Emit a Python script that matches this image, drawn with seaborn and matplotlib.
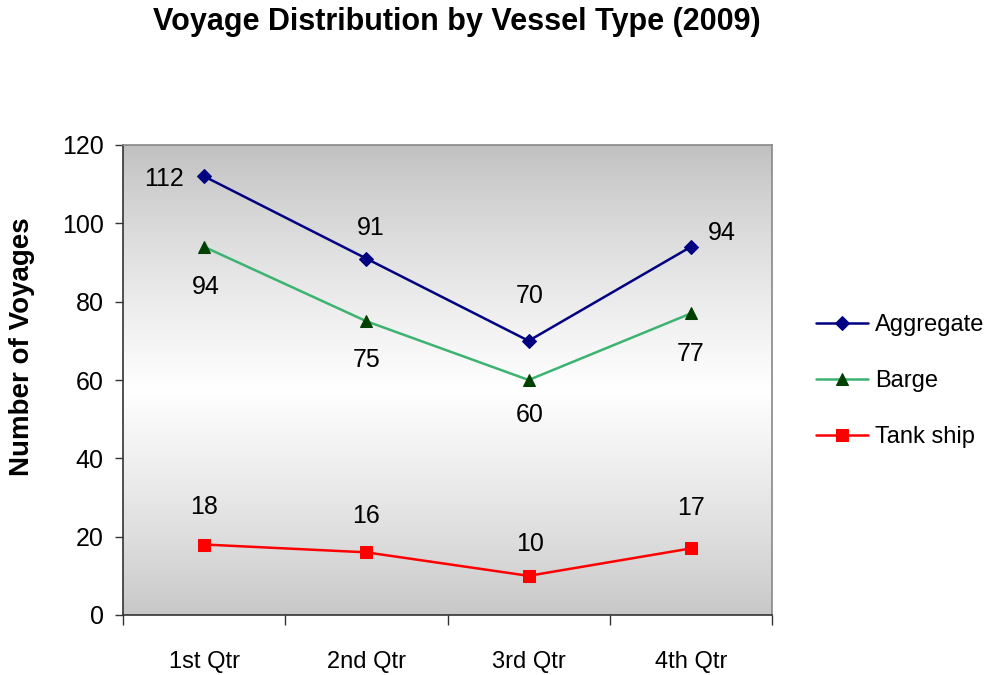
import numpy as np
import pandas as pd
import matplotlib
matplotlib.use("Agg")
import matplotlib.pyplot as plt
import seaborn as sns

# --- data ---
quarters = ["1st Qtr", "2nd Qtr", "3rd Qtr", "4th Qtr"]
aggregate = [112, 91, 70, 94]
barge = [94, 75, 60, 77]
tank_ship = [18, 16, 10, 17]

sns.set_theme(style="white")
plt.rcParams["font.family"] = ["Liberation Sans", "DejaVu Sans"]
plt.rcParams["text.color"] = "black"
plt.rcParams["xtick.color"] = "black"
plt.rcParams["ytick.color"] = "black"
plt.rcParams["axes.labelcolor"] = "black"

fig = plt.figure(figsize=(9.87, 6.75), dpi=100)
rect = [123 / 987, 60 / 675, 649 / 987, 470 / 675]

# gradient background in its own axes: grey at top/bottom, white in the middle
bg = fig.add_axes(rect, zorder=0)
t = np.linspace(0, 1, 256)
ramp = np.clip(1 - np.abs(t - 0.52) / 0.52, 0, 1)
shade = 0.75 + 0.25 * ramp ** 0.8
grad = np.dstack([shade, shade, shade])[0][:, None, :]
bg.imshow(grad, extent=[0, 1, 0, 1], aspect="auto", origin="upper")
bg.set_xlim(0, 1)
bg.set_ylim(0, 1)
bg.axis("off")

ax = fig.add_axes(rect, zorder=1)
ax.set_facecolor("none")

x = np.arange(len(quarters))
series = [
    ("Aggregate", aggregate, "#000080", "D", "#000080", 7),
    ("Barge", barge, "#3CB371", "^", "#004000", 9),
    ("Tank ship", tank_ship, "#FF0000", "s", "#FF0000", 8),
]
for name, vals, col, mk, mfc, ms in series:
    sns.lineplot(x=x, y=vals, ax=ax, color=col, marker=mk, markersize=ms,
                 markerfacecolor=mfc, markeredgecolor=mfc, linewidth=1.8,
                 label=name, zorder=3)

# label offsets (points)
offsets = {
    "Aggregate": [(-29, -2), (3, 22), (1, 32), (22, 10)],
    "Barge": [(1, -29), (0, -28), (1, -25), (0, -29)],
    "Tank ship": [(0, 27), (0, 26), (1, 23), (0, 29)],
}
for name, vals, *_ in series:
    for xi, v, off in zip(x, vals, offsets[name]):
        ax.annotate(str(v), (xi, v), xytext=off, textcoords="offset points",
                    ha="center", va="center", fontsize=18, color="black")

ax.set_xlim(-0.5, 3.5)
ax.set_ylim(0, 120)
ax.set_yticks(range(0, 121, 20))
ax.set_xticks(x)
ax.set_xticklabels(quarters, fontsize=17)
ax.set_xticks(np.arange(-0.5, 4, 1), minor=True)
ax.tick_params(axis="x", which="major", length=0, pad=26)
ax.tick_params(axis="x", which="minor", length=7, width=1, color="#333333",
               direction="out", bottom=True)
ax.tick_params(axis="y", length=6, width=1, color="#333333", direction="out",
               left=True, labelsize=18, pad=8)

for side in ["left", "bottom"]:
    ax.spines[side].set_color("#333333")
    ax.spines[side].set_linewidth(1.2)
for side in ["top", "right"]:
    ax.spines[side].set_color("#888888")
    ax.spines[side].set_linewidth(1.2)

ax.set_ylabel("Number of Voyages", fontsize=20, fontweight="bold")
ax.yaxis.set_label_coords(-0.136, 0.57)
ax.set_xlabel("")

fig.text(457 / 987, 1 - 22 / 675, "Voyage Distribution by Vessel Type (2009)",
         ha="center", va="center", fontsize=22, fontweight="bold")

ax.legend(loc="center left", bbox_to_anchor=(816 / 987, 1 - 381 / 675),
          bbox_transform=fig.transFigure, frameon=False, fontsize=17,
          labelspacing=1.45, handlelength=2.2, handletextpad=0.3,
          borderaxespad=0, borderpad=0)

fig.savefig("out.png", dpi=100)
